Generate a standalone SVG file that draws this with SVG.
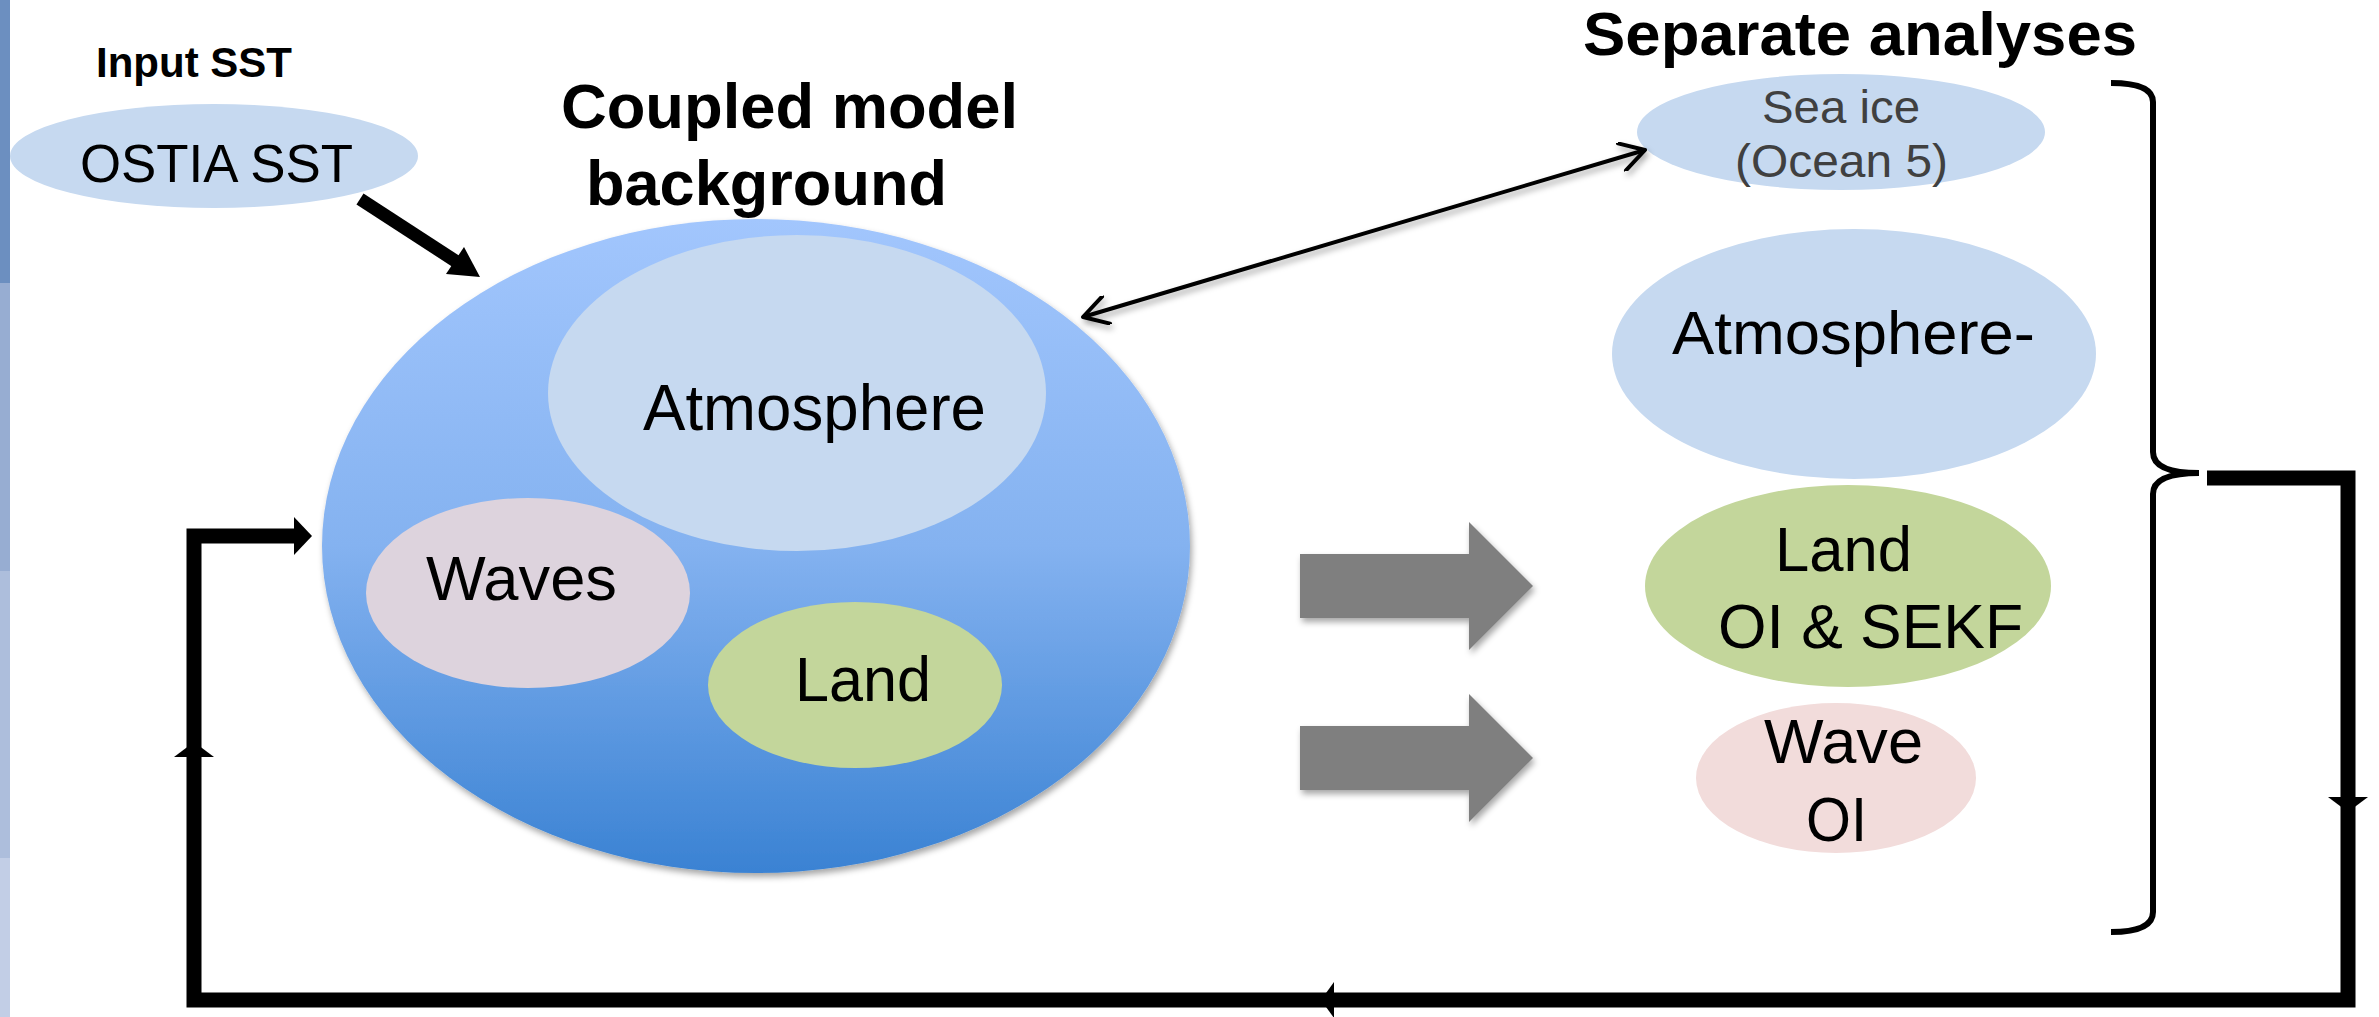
<svg xmlns="http://www.w3.org/2000/svg" width="2379" height="1017" viewBox="0 0 2379 1017">
<style>
  text { font-family: "Liberation Sans", Arial, sans-serif; fill: #000; }
  .b { font-weight: bold; }
  .lbl { font-size: 63px; }
  .small { font-size: 46px; fill: #404040; }
  .blue { fill: #c6d9f0; }
  .green { fill: #c3d69b; }
  .pinkish { fill: #ddd3dd; }
  .pink { fill: #f2dcdb; }
  .loop { fill: none; stroke: #000; stroke-width: 15; stroke-linejoin: miter; }
</style>
<defs>
  <linearGradient id="bigGrad" x1="0" y1="0" x2="0" y2="1">
    <stop offset="0" stop-color="#a2c6fd"/>
    <stop offset="0.5" stop-color="#84b2f0"/>
    <stop offset="1" stop-color="#3a82d3"/>
  </linearGradient>
  <filter id="shadow" x="-10%" y="-10%" width="120%" height="125%">
    <feDropShadow dx="2" dy="4" stdDeviation="3" flood-color="#000" flood-opacity="0.35"/>
  </filter>
  <marker id="openHead" viewBox="0 0 30 30" markerWidth="30" markerHeight="30" refX="27" refY="15" orient="auto-start-reverse" markerUnits="userSpaceOnUse">
    <path d="M3,1 L27,15 L3,29" fill="none" stroke="#000" stroke-width="4" stroke-linecap="round" stroke-linejoin="round"/>
  </marker>
</defs>
<rect width="2379" height="1017" fill="#fff"/>
<!-- left edge strip -->
<rect x="0" y="0" width="10" height="283" fill="#6c8fc0"/>
<rect x="0" y="283" width="10" height="288" fill="#97add2"/>
<rect x="0" y="571" width="10" height="287" fill="#adbedc"/>
<rect x="0" y="858" width="10" height="159" fill="#c2cee6"/>

<g id="title-input"><text class="b" x="194" y="77" font-size="42" text-anchor="middle" textLength="196" lengthAdjust="spacingAndGlyphs">Input SST</text></g>
<g id="title-coupled">
  <text class="b" x="561" y="128" font-size="63" textLength="457" lengthAdjust="spacingAndGlyphs">Coupled model</text>
  <text class="b" x="586" y="205" font-size="63" textLength="361" lengthAdjust="spacingAndGlyphs">background</text>
</g>
<g id="title-separate"><text class="b" x="1583" y="55" font-size="62" textLength="554" lengthAdjust="spacingAndGlyphs">Separate analyses</text></g>

<g id="ostia">
  <ellipse class="blue" cx="214" cy="156" rx="204" ry="52"/>
  <text x="80" y="182" font-size="53" textLength="273" lengthAdjust="spacingAndGlyphs">OSTIA SST</text>
</g>

<g id="coupled-model">
  <ellipse cx="756" cy="546" rx="434" ry="327" fill="url(#bigGrad)" filter="url(#shadow)"/>
</g>
<g id="atmosphere">
  <ellipse class="blue" cx="797" cy="393" rx="249" ry="158"/>
  <text x="643" y="430" font-size="65" textLength="343" lengthAdjust="spacingAndGlyphs">Atmosphere</text>
</g>
<g id="waves">
  <ellipse class="pinkish" cx="528" cy="593" rx="162" ry="95"/>
  <text class="lbl" x="426" y="600" textLength="191" lengthAdjust="spacingAndGlyphs">Waves</text>
</g>
<g id="land">
  <ellipse class="green" cx="855" cy="685" rx="147" ry="83"/>
  <text class="lbl" x="795" y="701" textLength="136" lengthAdjust="spacingAndGlyphs">Land</text>
</g>

<g id="sea-ice">
  <ellipse class="blue" cx="1841" cy="132" rx="204" ry="58"/>
  <text class="small" x="1762" y="123" textLength="158" lengthAdjust="spacingAndGlyphs">Sea ice</text>
  <text class="small" x="1735" y="177" textLength="213" lengthAdjust="spacingAndGlyphs">(Ocean 5)</text>
</g>
<g id="atmosphere-analysis">
  <ellipse class="blue" cx="1854" cy="354" rx="242" ry="125"/>
  <text x="1672" y="354" font-size="62" textLength="363" lengthAdjust="spacingAndGlyphs">Atmosphere-</text>
</g>
<g id="land-analysis">
  <ellipse class="green" cx="1848" cy="586" rx="203" ry="101"/>
  <text class="lbl" x="1775" y="571" textLength="137" lengthAdjust="spacingAndGlyphs">Land</text>
  <text class="lbl" x="1718" y="648" textLength="305" lengthAdjust="spacingAndGlyphs">OI &amp; SEKF</text>
</g>
<g id="wave-analysis">
  <ellipse class="pink" cx="1836" cy="778" rx="140" ry="75"/>
  <text class="lbl" x="1764" y="763" textLength="159" lengthAdjust="spacingAndGlyphs">Wave</text>
  <text class="lbl" x="1806" y="841" textLength="61" lengthAdjust="spacingAndGlyphs">OI</text>
</g>

<g id="bracket">
  <path d="M2111,83 Q2153,83 2153,102 L2153,452 Q2153,473 2199,473 Q2153,473 2153,494 L2153,912 Q2153,932 2111,932" fill="none" stroke="#000" stroke-width="6"/>
</g>

<g id="connectors">
  <!-- OSTIA to coupled model -->
  <line x1="360" y1="199" x2="457" y2="262" stroke="#000" stroke-width="13"/>
  <polygon points="480,277 446,274 464,247" fill="#000"/>
  <!-- double arrow -->
  <line x1="1083" y1="317" x2="1645" y2="150" stroke="#000" stroke-width="4" marker-start="url(#openHead)" marker-end="url(#openHead)" filter="url(#shadow)"/>
  <!-- block arrows -->
  <polygon points="1300,554 1469,554 1469,522 1533,586 1469,650 1469,618 1300,618" fill="#7f7f7f" filter="url(#shadow)"/>
  <polygon points="1300,726 1469,726 1469,694 1533,758 1469,822 1469,790 1300,790" fill="#7f7f7f" filter="url(#shadow)"/>
  <!-- feedback loop -->
  <polyline class="loop" points="2207,478 2348,478 2348,1000 194,1000 194,536 296,536"/>
  <polygon points="294,517 312,536 294,555" fill="#000"/>
  <polygon points="2328,797 2368,797 2348,812" fill="#000"/>
  <polygon points="174,757 214,757 194,742" fill="#000"/>
  <polygon points="1334,982 1334,1018 1321,1000" fill="#000"/>
</g>
</svg>
